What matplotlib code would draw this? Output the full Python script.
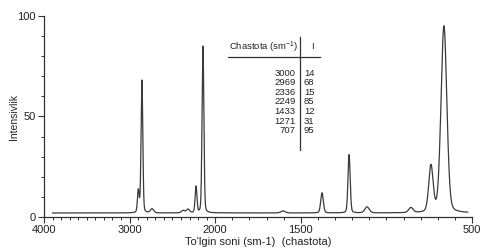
import numpy as np
import matplotlib
matplotlib.use("Agg")
import matplotlib.pyplot as plt
from matplotlib.ticker import FixedLocator, MultipleLocator

# =========================
# Data
# =========================
# peak positions (wavenumber), heights and full widths of the drawn spectrum
peak_pos = [2898, 2856, 2738, 2376, 2318, 2224, 2143, 1604, 1376, 1218, 1113, 857, 740, 664]
peak_height = [11, 66, 2.0, 1.2, 1.8, 13, 83, 1.0, 10, 29, 3.0, 2.5, 23, 93]
peak_fwhm = [24, 24, 45, 45, 45, 25, 25, 30, 18, 15, 30, 30, 30, 40]
baseline = 2.0
wn_start, wn_end = 3900, 525

# table shown inside the chart
table_freq = ["3000", "2969", "2336", "2249", "1433", "1271", "707"]
table_int = ["14", "68", "15", "85", "12", "31", "95"]

x_major = [4000, 3000, 2000, 1500, 500]

# =========================
# Build spectrum from the peaks
# =========================
wn = np.linspace(wn_start, wn_end, 3000)
spec = np.full_like(wn, baseline)
for c, h, w in zip(peak_pos, peak_height, peak_fwhm):
    sig = w / 2.355
    gauss = np.exp(-0.5 * ((wn - c) / sig) ** 2)
    lor = 1 / (1 + ((wn - c) / (w / 2)) ** 2)
    spec += h * (0.8 * gauss + 0.2 * lor)

# =========================
# Figure
# =========================
plt.rcParams["font.family"] = ["Liberation Sans", "DejaVu Sans"]
plt.rcParams["mathtext.default"] = "regular"
ink = "#333333"

fig = plt.figure(figsize=(4.8, 2.52), dpi=100)
ax = fig.add_axes([44 / 480, 1 - 217 / 252, 428 / 480, 201 / 252])


# the x axis is compressed by two above 2000
def fwd(x):
    x = np.asarray(x, dtype=float)
    return np.where(x > 2000, 2000 + (x - 2000) / 2, x)


def inv(y):
    y = np.asarray(y, dtype=float)
    return np.where(y > 2000, 2000 + 2 * (y - 2000), y)


ax.set_xscale("function", functions=(fwd, inv))
ax.plot(wn, spec, color="#3a3a3a", lw=0.9)

ax.set_xlim(4000, 500)
ax.set_ylim(0, 100)
ax.xaxis.set_major_locator(FixedLocator(x_major))
ax.xaxis.set_minor_locator(FixedLocator(np.arange(500, 4001, 100)))
ax.set_xticklabels([str(v) for v in x_major])
ax.yaxis.set_major_locator(FixedLocator([0, 50, 100]))
ax.yaxis.set_minor_locator(MultipleLocator(10))

for s in ["top", "right"]:
    ax.spines[s].set_visible(False)
for s in ["left", "bottom"]:
    ax.spines[s].set_color(ink)
    ax.spines[s].set_linewidth(0.9)

ax.tick_params(which="major", length=4.5, width=0.8, color=ink, labelsize=8, labelcolor="#222222", pad=1.5)
ax.tick_params(which="minor", length=2.5, width=0.7, color=ink)

ax.set_xlabel("To'lgin soni (sm-1)  (chastota)", fontsize=8, color="#222222", labelpad=1)
ax.set_ylabel("Intensivlik", fontsize=7.5, color="#222222", labelpad=-1)

# =========================
# Table inside the chart
# =========================
tr = ax.transAxes
ax.text(0.432, 0.846, "Chastota (sm$^{-1}$)", transform=tr, fontsize=6.8, color="#222222", va="center")
ax.text(0.628, 0.846, "I", transform=tr, fontsize=6.8, color="#222222", va="center", ha="center")
ax.plot([0.430, 0.645], [0.796, 0.796], transform=tr, color=ink, lw=0.9)
ax.plot([0.598, 0.598], [0.896, 0.333], transform=tr, color=ink, lw=0.9)

row_y = 0.716
for f, i in zip(table_freq, table_int):
    ax.text(0.588, row_y, f, transform=tr, fontsize=6.8, color="#222222", va="center", ha="right")
    ax.text(0.607, row_y, i, transform=tr, fontsize=6.8, color="#222222", va="center", ha="left")
    row_y -= 0.0478

fig.savefig("out.png", dpi=100)
